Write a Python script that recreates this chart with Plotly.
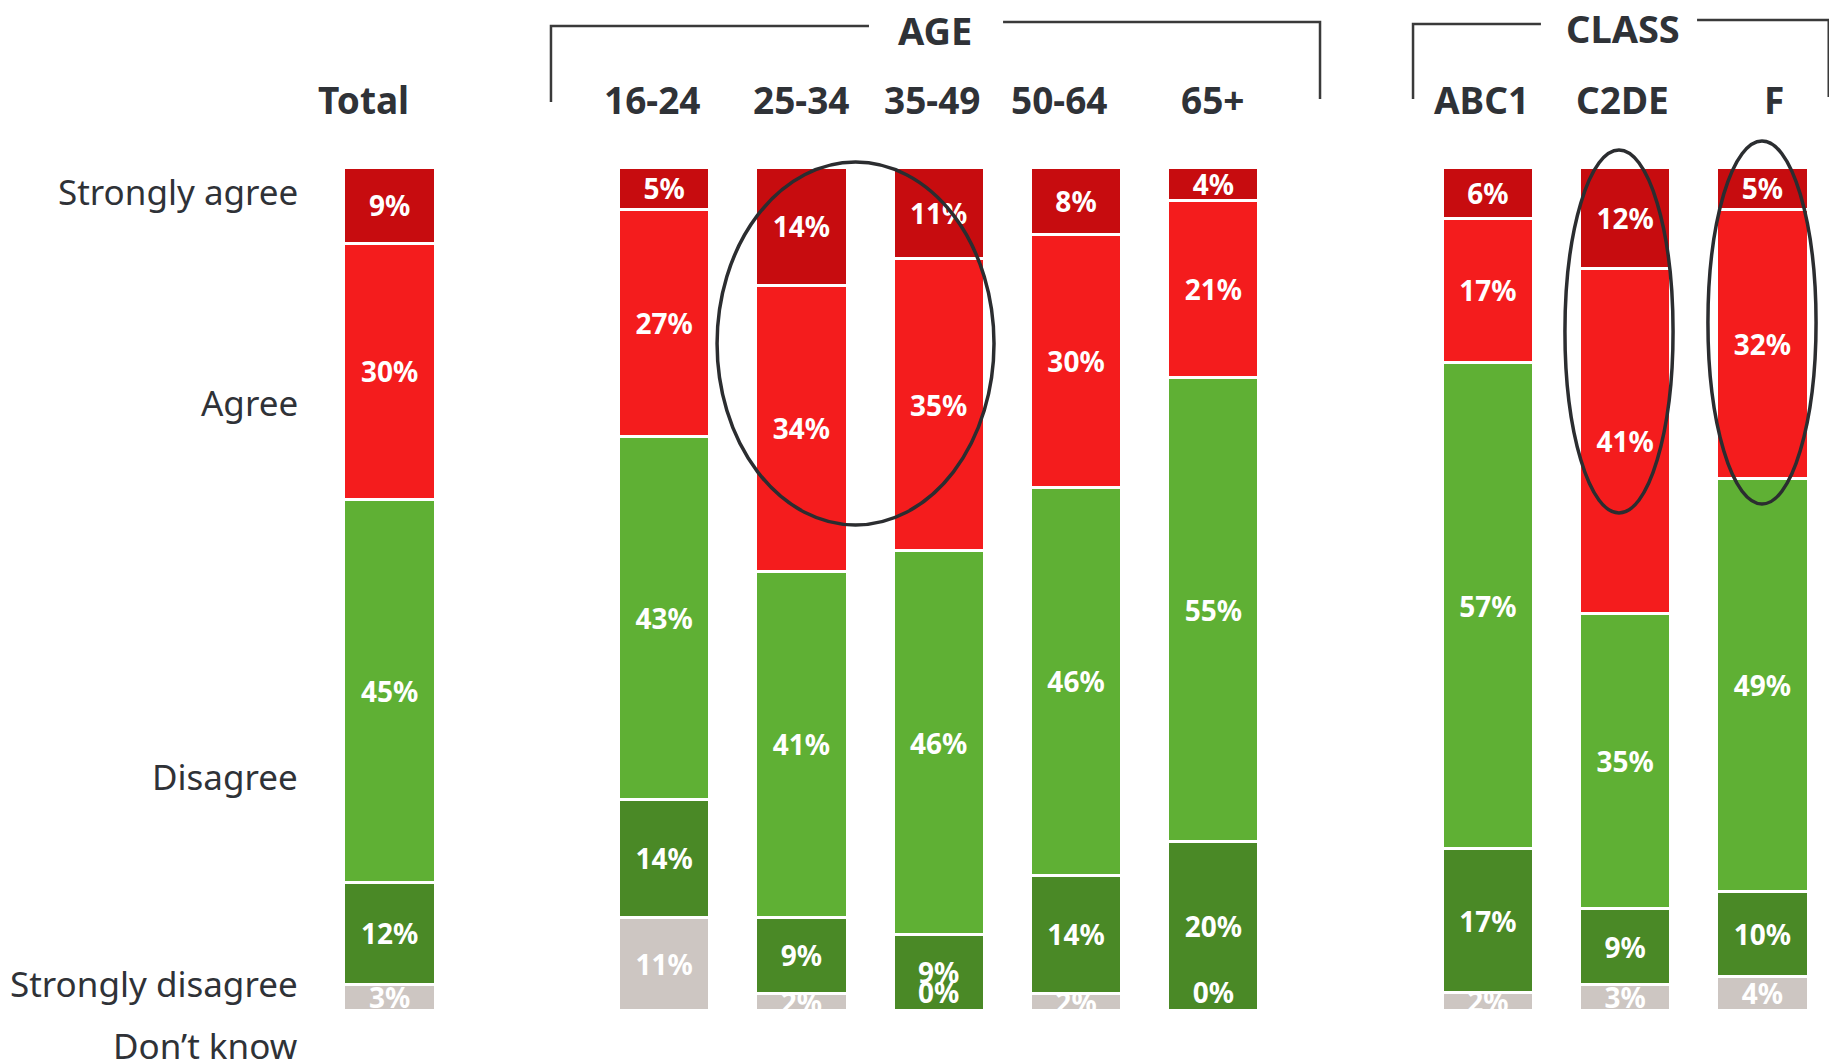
import plotly.graph_objects as go

# ---------------- data ----------------
categories = ["Total", "16-24", "25-34", "35-49", "50-64", "65+", "ABC1", "C2DE", "F"]
axis_order = ["Total", " ", "16-24", "25-34", "35-49", "50-64", "65+", "  ", "ABC1", "C2DE", "F"]

dont_know         = [3, 11, 2, 0, 2, 0, 2, 3, 4]
strongly_disagree = [12, 14, 9, 9, 14, 20, 17, 9, 10]
disagree          = [45, 43, 41, 46, 46, 55, 57, 35, 49]
agree             = [30, 27, 34, 35, 30, 21, 17, 41, 32]
strongly_agree    = [9, 5, 14, 11, 8, 4, 6, 12, 5]

series = [
    ("Don't know", dont_know, "#cdc6c2"),
    ("Strongly disagree", strongly_disagree, "#4a8926"),
    ("Disagree", disagree, "#5fb034"),
    ("Agree", agree, "#f41c1d"),
    ("Strongly agree", strongly_agree, "#c70c0f"),
]

row_labels = ["Strongly agree", "Agree", "Disagree", "Strongly disagree", "Don\u2019t know"]
row_label_y = [0.9715, 0.7212, 0.2764, 0.032, -0.0427]

# header label horizontal nudges (px), as laid out in the original slide
header_xshift = [-26, -12, 0, -6, -17, 0, -6, -3, 12]

FONT = "Noto Sans"
DARK = "#2f3237"
LABEL_FONT = dict(family=FONT, size=28, color="white", weight="bold")

fig = go.Figure()
for name, vals, color in series:
    fig.add_trace(go.Bar(
        x=categories, y=vals, name=name,
        marker=dict(color=color, line=dict(color="white", width=3)),
        text=[f"{v}%" for v in vals],
        textposition="inside", insidetextanchor="middle",
        textfont=LABEL_FONT,
        constraintext="none", cliponaxis=True,
        hoverinfo="skip",
    ))

# labels for zero-height "Don't know" segments (bars of zero height carry no text)
zero_x = [c for c, v in zip(categories, dont_know) if v == 0]
zero_y = [v for v in dont_know if v == 0]
fig.add_trace(go.Scatter(
    x=zero_x, y=zero_y, mode="text",
    text=[f"{v}%" for v in zero_y], textposition="top center",
    textfont=LABEL_FONT, cliponaxis=True, hoverinfo="skip", showlegend=False,
))

fig.update_layout(
    barmode="stack", barnorm="percent", bargap=0.335,
    width=1829, height=1056,
    margin=dict(l=313, r=6, t=159, b=54),
    paper_bgcolor="white", plot_bgcolor="white",
    showlegend=False,
    uniformtext=dict(mode="show", minsize=28),
    font=dict(family=FONT, color=DARK),
)
fig.update_xaxes(
    type="category", categoryorder="array", categoryarray=axis_order,
    range=[-0.5, 10.5], showticklabels=False, showgrid=False, zeroline=False,
    showline=False, ticks="",
)
fig.update_yaxes(range=[0, 100], visible=False, showgrid=False, zeroline=False)

# column headers
for cat, dx in zip(categories, header_xshift):
    fig.add_annotation(text=cat, xref="x", yref="paper", x=cat, y=1.0795, xshift=dx,
                       xanchor="center", yanchor="middle", showarrow=False,
                       font=dict(family=FONT, size=37, color=DARK, weight="bold"))

# row labels on the left
for lab, yy in zip(row_labels, row_label_y):
    fig.add_annotation(text=lab, xref="paper", yref="paper", x=-0.0137, y=yy,
                       xanchor="right", yanchor="middle", showarrow=False,
                       font=dict(family=FONT, size=35, color=DARK))

# group headers
fig.add_annotation(text="AGE", xref="paper", yref="paper", x=0.4066, y=1.163,
                   xanchor="center", yanchor="middle", showarrow=False,
                   font=dict(family=FONT, size=38, color=DARK, weight="bold"))
fig.add_annotation(text="CLASS", xref="paper", yref="paper", x=0.8623, y=1.165,
                   xanchor="center", yanchor="middle", showarrow=False,
                   font=dict(family=FONT, size=38, color=DARK, weight="bold"))

line_style = dict(color="#3a3a3a", width=2.5)
# AGE bracket
fig.add_shape(type="path", xref="paper", yref="paper",
              path="M 0.1523,1.0771 L 0.1523,1.1673 L 0.3629,1.1673", line=line_style)
fig.add_shape(type="path", xref="paper", yref="paper",
              path="M 0.4517,1.1720 L 0.6616,1.1720 L 0.6616,1.0807", line=line_style)
# CLASS bracket
fig.add_shape(type="path", xref="paper", yref="paper",
              path="M 0.7232,1.0807 L 0.7232,1.1696 L 0.8079,1.1696", line=line_style)
fig.add_shape(type="path", xref="paper", yref="paper",
              path="M 0.9113,1.1744 L 0.9985,1.1744 L 0.9985,1.0831", line=line_style)

# highlight ellipses
ell_style = dict(color="#2b2d30", width=3.5)
for x0, x1, y0, y1 in [(0.2623, 0.4457, 0.5753, 1.0059),
                       (0.8238, 0.8954, 0.5896, 1.0202),
                       (0.9185, 0.9901, 0.6002, 1.0309)]:
    fig.add_shape(type="circle", xref="paper", yref="paper",
                  x0=x0, x1=x1, y0=y0, y1=y1, line=ell_style, layer="above")

fig.write_html("out.html")
